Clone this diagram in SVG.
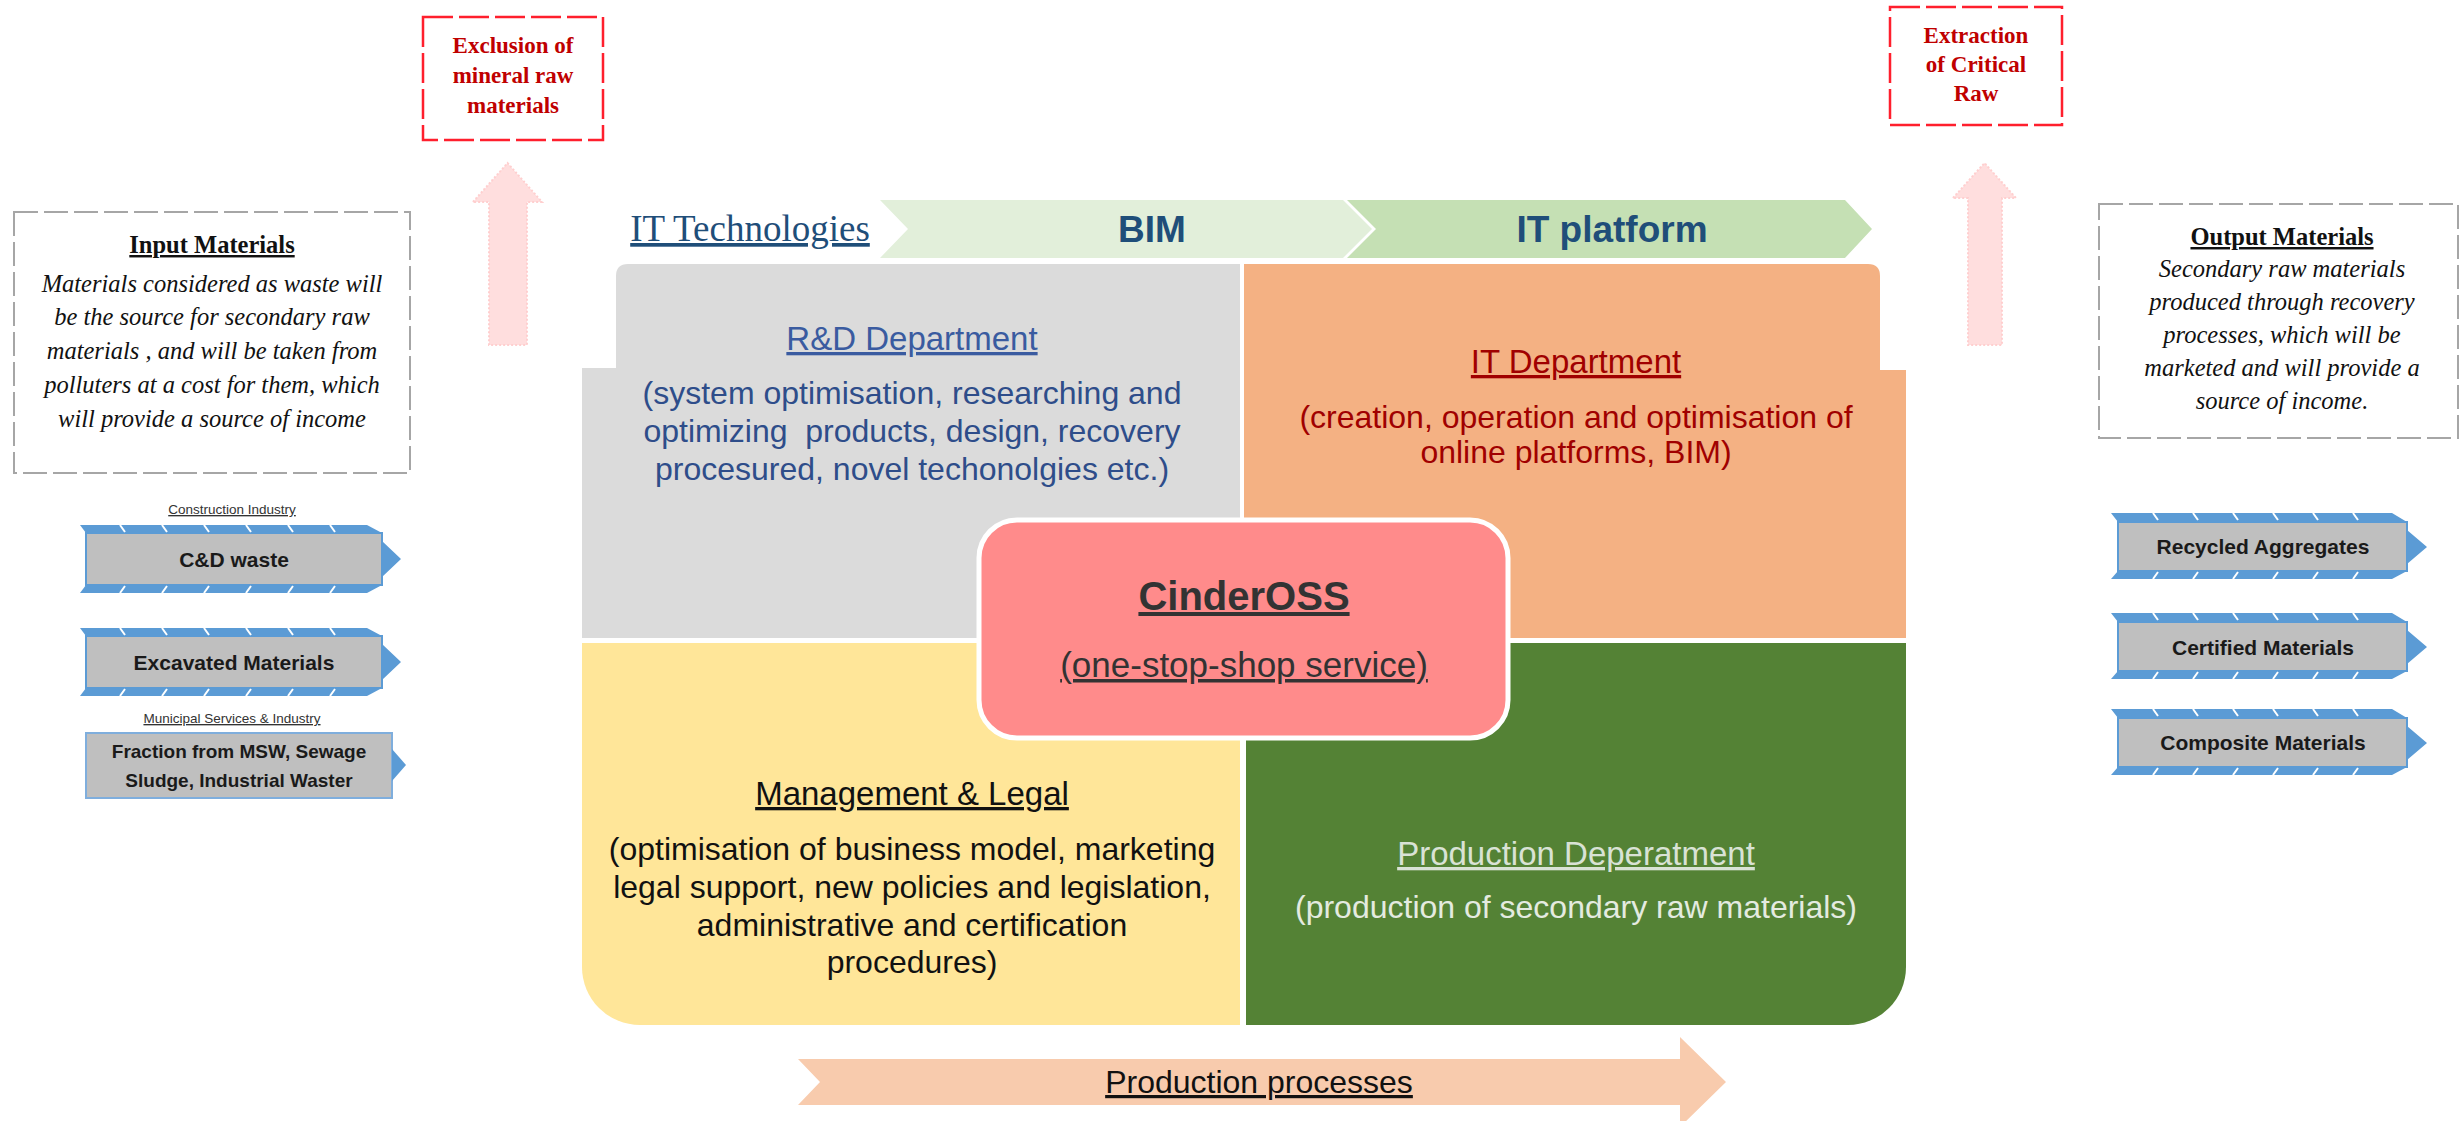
<svg xmlns="http://www.w3.org/2000/svg" width="2461" height="1121" viewBox="0 0 2461 1121">
<defs>
<style>
.sans{font-family:"Liberation Sans",Arial,sans-serif}
.serif{font-family:"Liberation Serif","Times New Roman",serif}
.c{text-anchor:middle}
.u{text-decoration:underline}
.redbox{fill:#fff;stroke:#FF1F2D;stroke-width:2.5;stroke-dasharray:30 6}
.redtxt{fill:#C00000;font-weight:bold;font-size:23px}
.graybox{fill:#fff;stroke:#A6A6A6;stroke-width:2;stroke-dasharray:24 6}
.desc{font-style:italic;font-size:24.5px;fill:#111}
.boxtitle{font-weight:bold;font-size:24.5px;fill:#111}
.band{fill:#5B9BD5}
.body{fill:#BFBFBF;stroke:#5B9BD5;stroke-width:2}
.tick{stroke:#fff;stroke-width:2;fill:none}
.lbl{font-weight:bold;font-size:21px;fill:#1a1a1a}
.small{font-size:13.5px;fill:#333}
.uparrow{fill:#FFDEDE;stroke:#FFCFCF;stroke-width:2;stroke-dasharray:2 2}
.dtitle{font-size:33px}
.dbody{font-size:32px}
.chev{font-size:37px;font-weight:bold;fill:#1F4E79}
</style>
<g id="arrowL">
<path class="band" d="M80,525 L367,525 L382,533 L382,541 L401,559 L382,577 L382,585 L367,593 L80,593 L86,585 L86,533 Z"/>
<rect class="body" x="86" y="533" width="296" height="52"/>
<path class="tick" d="M120,525 l5,7 M162,525 l5,7 M204,525 l5,7 M246,525 l5,7 M288,525 l5,7 M330,525 l5,7 M120,593 l5,-7 M162,593 l5,-7 M204,593 l5,-7 M246,593 l5,-7 M288,593 l5,-7 M330,593 l5,-7"/>
</g>
<g id="arrowR">
<path class="band" d="M2111,513 L2392,513 L2407,522 L2407,530 L2427,547 L2407,564 L2407,571 L2392,579 L2111,579 L2118,571 L2118,522 Z"/>
<rect class="body" x="2118" y="522" width="289" height="49"/>
<path class="tick" d="M2153,513 l5,7 M2193,513 l5,7 M2233,513 l5,7 M2273,513 l5,7 M2313,513 l5,7 M2353,513 l5,7 M2153,579 l5,-7 M2193,579 l5,-7 M2233,579 l5,-7 M2273,579 l5,-7 M2313,579 l5,-7 M2353,579 l5,-7"/>
</g>
</defs>
<rect width="2461" height="1121" fill="#fff"/>

<g id="connectors">
<path class="uparrow" d="M473,202 L507.5,163 L542,202 L527,202 L527,345 L489,345 L489,202 Z"/>
<path class="uparrow" d="M1953,198 L1984.5,163 L2016,198 L2002,198 L2002,345 L1968,345 L1968,198 Z"/>
</g>

<g id="exclusion-box">
<rect class="redbox" x="423" y="17" width="180" height="123"/>
<text class="serif redtxt c" x="513" y="53">Exclusion of</text>
<text class="serif redtxt c" x="513" y="83">mineral raw</text>
<text class="serif redtxt c" x="513" y="113">materials</text>
</g>

<g id="extraction-box">
<rect class="redbox" x="1890" y="7" width="172" height="118"/>
<text class="serif redtxt c" x="1976" y="43">Extraction</text>
<text class="serif redtxt c" x="1976" y="72">of Critical</text>
<text class="serif redtxt c" x="1976" y="101">Raw</text>
</g>

<g id="input-materials">
<rect class="graybox" x="14" y="212" width="396" height="261"/>
<text class="serif boxtitle c u" x="212" y="253">Input Materials</text>
<text class="serif desc c" x="212" y="292">Materials considered as waste will</text>
<text class="serif desc c" x="212" y="325">be the source for secondary raw</text>
<text class="serif desc c" x="212" y="359">materials , and will be taken from</text>
<text class="serif desc c" x="212" y="393">polluters at a cost for them, which</text>
<text class="serif desc c" x="212" y="427">will provide a source of income</text>
</g>

<g id="output-materials">
<rect class="graybox" x="2099" y="204" width="359" height="234"/>
<text class="serif boxtitle c u" x="2282" y="245">Output Materials</text>
<text class="serif desc c" x="2282" y="277">Secondary raw materials</text>
<text class="serif desc c" x="2282" y="310">produced through recovery</text>
<text class="serif desc c" x="2282" y="343">processes, which will be</text>
<text class="serif desc c" x="2282" y="376">marketed and will provide a</text>
<text class="serif desc c" x="2282" y="409">source of income.</text>
</g>

<g id="input-cd-waste">
<text class="sans small c u" x="232" y="514">Construction Industry</text>
<use href="#arrowL"/>
<text class="sans lbl c" x="234" y="567">C&amp;D waste</text>
</g>
<g id="input-excavated">
<use href="#arrowL" transform="translate(0,103)"/>
<text class="sans lbl c" x="234" y="670">Excavated Materials</text>
</g>
<g id="input-msw">
<text class="sans small c u" x="232" y="723">Municipal Services &amp; Industry</text>
<rect class="body" x="86" y="733" width="306" height="65" style="stroke:#7FAEDD"/>
<polygon class="band" points="392,749 406,765 392,781"/>
<text class="sans c" x="239" y="758" style="font-weight:bold;font-size:19px;fill:#1a1a1a">Fraction from MSW, Sewage</text>
<text class="sans c" x="239" y="787" style="font-weight:bold;font-size:19px;fill:#1a1a1a">Sludge, Industrial Waster</text>
</g>

<g id="output-recycled">
<use href="#arrowR"/>
<text class="sans lbl c" x="2263" y="554">Recycled Aggregates</text>
</g>
<g id="output-certified">
<use href="#arrowR" transform="translate(0,100)"/>
<text class="sans lbl c" x="2263" y="655">Certified Materials</text>
</g>
<g id="output-composite">
<use href="#arrowR" transform="translate(0,196)"/>
<text class="sans lbl c" x="2263" y="750">Composite Materials</text>
</g>

<g id="it-technologies">
<text class="serif c u" x="750" y="241" style="font-size:37px;fill:#1F4E79">IT Technologies</text>
</g>
<g id="bim">
<polygon points="880,200 1343,200 1372,229 1343,258 880,258 908,229" fill="#E2EFDA"/>
<text class="sans chev c" x="1152" y="242">BIM</text>
</g>
<g id="it-platform">
<polygon points="1347,200 1845,200 1872,229 1845,258 1347,258 1376,229" fill="#C5E0B4"/>
<text class="sans chev c" x="1612" y="242">IT platform</text>
</g>

<g id="rd-department">
<path d="M582,368 L616,368 L616,276 Q616,264 628,264 L1240,264 L1240,638 L582,638 Z" fill="#DBDBDB"/>
<text class="sans dtitle c u" x="912" y="350" fill="#3A5BA0">R&amp;D Department</text>
<text class="sans dbody c" x="912" y="404" fill="#2E4D8A">(system optimisation, researching and</text>
<text class="sans dbody c" x="912" y="442" fill="#2E4D8A" xml:space="preserve">optimizing  products, design, recovery</text>
<text class="sans dbody c" x="912" y="480" fill="#2E4D8A">procesured, novel techonolgies etc.)</text>
</g>

<g id="it-department">
<path d="M1244,264 L1868,264 Q1880,264 1880,276 L1880,370 L1906,370 L1906,638 L1244,638 Z" fill="#F4B183"/>
<text class="sans dtitle c u" x="1576" y="373" fill="#A00000">IT Department</text>
<text class="sans dbody c" x="1576" y="428" fill="#A00000">(creation, operation and optimisation of</text>
<text class="sans dbody c" x="1576" y="463" fill="#A00000">online platforms, BIM)</text>
</g>

<g id="management-legal">
<path d="M582,643 L1240,643 L1240,1025 L640,1025 A58,58 0 0 1 582,967 Z" fill="#FFE699"/>
<text class="sans dtitle c u" x="912" y="805" fill="#111">Management &amp; Legal</text>
<text class="sans dbody c" x="912" y="860" fill="#111">(optimisation of business model, marketing</text>
<text class="sans dbody c" x="912" y="898" fill="#111">legal support, new policies and legislation,</text>
<text class="sans dbody c" x="912" y="936" fill="#111">administrative and certification</text>
<text class="sans dbody c" x="912" y="973" fill="#111">procedures)</text>
</g>

<g id="production-department">
<path d="M1246,643 L1906,643 L1906,967 A58,58 0 0 1 1848,1025 L1246,1025 Z" fill="#548235"/>
<text class="sans dtitle c u" x="1576" y="865" fill="#D9E2D5">Production Deperatment</text>
<text class="sans dbody c" x="1576" y="918" fill="#E4EBE0">(production of secondary raw materials)</text>
</g>

<g id="cindeross">
<rect x="979" y="520" width="529" height="218" rx="38" fill="#FF8B8B" stroke="#fff" stroke-width="5"/>
<text class="sans c u" x="1244" y="610" style="font-size:40px;font-weight:bold;fill:#333">CinderOSS</text>
<text class="sans c u" x="1244" y="677" style="font-size:35px;fill:#333">(one-stop-shop service)</text>
</g>

<g id="production-processes">
<polygon points="798,1059 1680,1059 1680,1037 1726,1082 1680,1127 1680,1105 798,1105 820,1082" fill="#F8CBAD"/>
<text class="sans c u" x="1259" y="1093" style="font-size:32px;fill:#111">Production processes</text>
</g>
</svg>
